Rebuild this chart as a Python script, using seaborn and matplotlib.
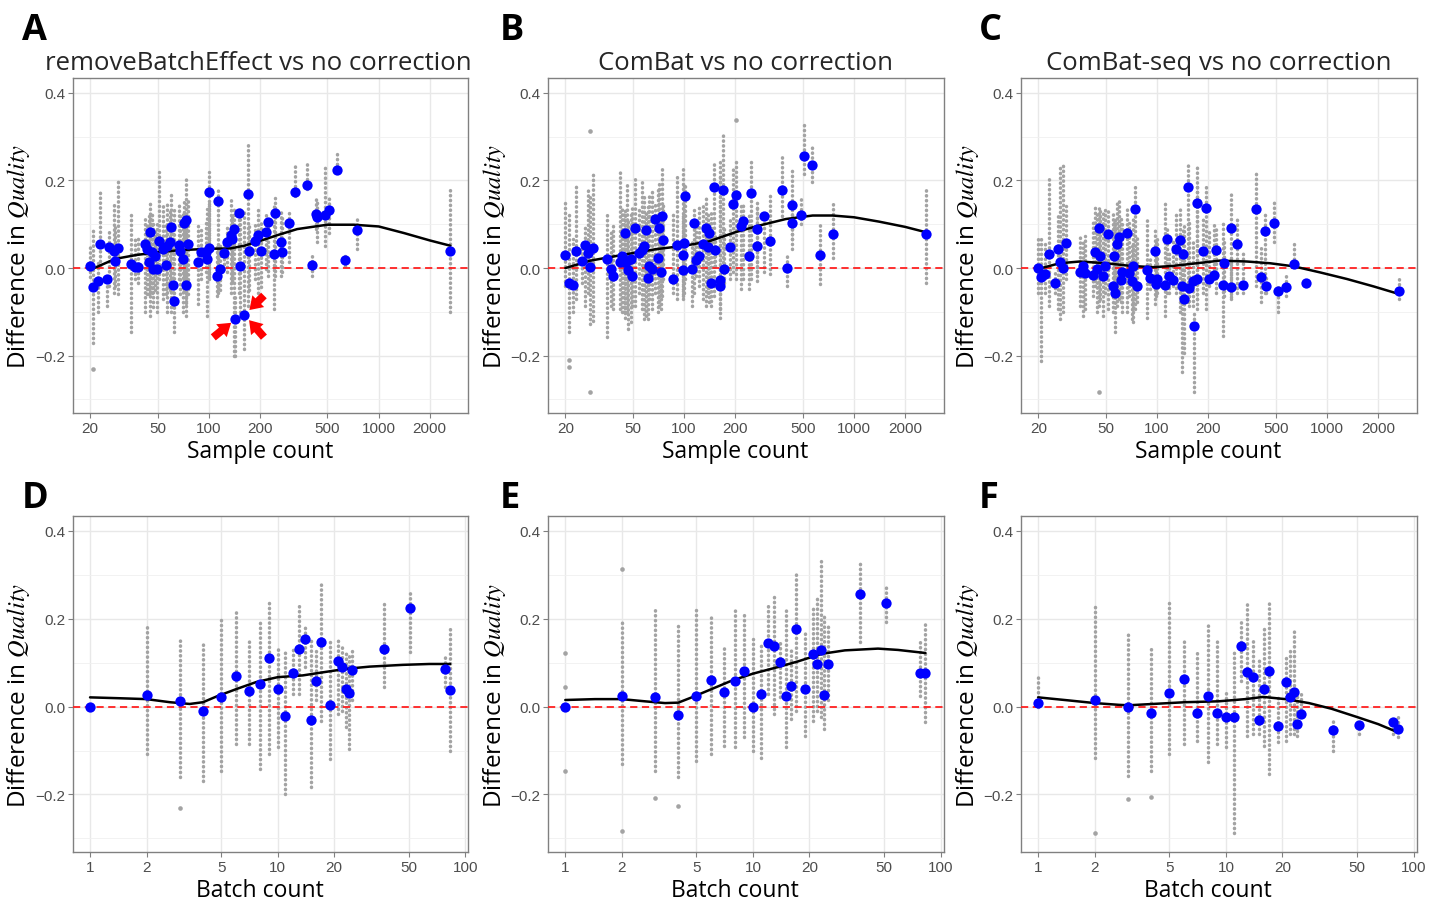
import numpy as np
import pandas as pd
import matplotlib.pyplot as plt
import seaborn as sns
from matplotlib.ticker import NullLocator

sns.set_theme(style="white")
plt.rcParams['font.family'] = ['Open Sans', 'DejaVu Sans']
plt.rcParams['mathtext.fontset'] = 'stix'

# ---- top row: difference in quality vs sample count ----
sample_a = [20, 20.9, 22.1, 23.0, 25.0, 26.0, 27.5, 28.1, 29.2, 35.0,
            36.9, 38.3, 42.3, 43.3, 44.3, 44.9, 46.3, 47.0, 48.5, 49.6,
            51.2, 53.8, 55.6, 56.9, 58.7, 59.5, 61.4, 62.5, 67.2, 68.1,
            70.7, 71.3, 73.0, 73.7, 75.4, 86.3, 90.3, 95.8, 98.0, 100.3,
            100.7, 111.4, 113.8, 117.0, 123.0, 128.8, 134.7, 137.8, 141.0, 143.6,
            151.0, 153.1, 162.3, 170.7, 171.5, 187.6, 194.6, 203.7, 217.9, 222.9,
            242.1, 246.5, 267.4, 269.9, 295.6, 320.9, 379.6, 406.4, 430.8, 434.8,
            485.6, 509.8, 568.7, 631.3, 750.3, 2650]
diff_a = [0.005, -0.044, -0.030, 0.055, -0.024, 0.047, 0.040, 0.017, 0.046, 0.009,
          0.003, 0.003, 0.056, 0.043, 0.014, 0.082, 0.036, -0.002, 0.028, -0.002,
          0.062, 0.043, 0.007, 0.051, 0.059, 0.093, -0.038, -0.076, 0.053, 0.040,
          0.021, 0.104, -0.038, 0.110, 0.056, 0.014, 0.037, 0.036, 0.021, 0.046,
          0.174, -0.019, 0.154, -0.001, 0.034, 0.059, 0.075, 0.066, 0.089, -0.117,
          0.126, 0.004, -0.107, 0.169, 0.040, 0.062, 0.075, 0.040, 0.083, 0.106,
          0.032, 0.125, 0.060, 0.037, 0.103, 0.173, 0.190, 0.007, 0.123, 0.116,
          0.122, 0.133, 0.224, 0.019, 0.086, 0.038]
gray_lo_a = [-0.02, -0.17, -0.10, 0.005, -0.086, -0.04, -0.056, -0.04, -0.059, -0.147,
             -0.025, -0.033, -0.101, -0.06, -0.06, -0.109, -0.056, -0.09, -0.05, -0.101,
             -0.025, -0.071, -0.06, -0.101, -0.05, -0.101, -0.09, -0.147, -0.025, -0.06,
             -0.101, -0.05, -0.08, -0.109, -0.06, -0.082, -0.025, -0.01, -0.109, -0.02,
             -0.025, -0.063, -0.056, -0.05, -0.002, -0.01, -0.056, -0.03, -0.20, -0.20,
             -0.056, -0.101, -0.185, -0.086, -0.05, -0.025, -0.056, -0.044, -0.002, -0.018,
             -0.094, -0.018, -0.018, -0.01, 0.013, 0.165, 0.181, -0.018, 0.089, 0.06,
             0.051, 0.08, 0.226, 0.005, 0.043, -0.101]
gray_hi_a = [0.055, 0.09, 0.02, 0.181, -0.01, 0.089, 0.15, 0.10, 0.203, 0.124,
             0.066, 0.074, 0.119, 0.10, 0.12, 0.150, 0.123, 0.10, 0.09, 0.108,
             0.219, 0.142, 0.10, 0.154, 0.13, 0.173, 0.10, 0.135, 0.146, 0.12,
             0.127, 0.15, 0.10, 0.203, 0.16, 0.097, 0.089, 0.112, 0.135, 0.15,
             0.219, 0.051, 0.181, 0.06, 0.055, 0.097, 0.165, 0.12, 0.135, -0.06,
             0.135, 0.142, 0.127, 0.283, 0.10, 0.104, 0.135, 0.112, 0.127, 0.112,
             0.142, 0.161, 0.127, 0.12, 0.135, 0.238, 0.238, 0.028, 0.158, 0.15,
             0.234, 0.165, 0.261, 0.028, 0.112, 0.184]
single_x_a = [20.9]
single_y_a = [-0.231]
curve_x_a = [20, 28.1, 37.6, 50.1, 67.9, 100.6, 134.6, 161.5, 200.8, 252.7,
             331.5, 498, 715, 1003, 1411, 2010, 2650]
curve_y_a = [-0.004, 0.021, 0.030, 0.036, 0.041, 0.044, 0.045, 0.051, 0.062, 0.075,
             0.089, 0.099, 0.099, 0.095, 0.080, 0.063, 0.051]

sample_b = [20, 20.9, 22.1, 23.0, 25.0, 26.0, 27.1, 28.1, 29.2, 35.0,
            37.2, 38.3, 41.8, 43.3, 44.3, 44.9, 46.3, 47.0, 48.5, 49.4,
            51.2, 54.3, 56.9, 58.4, 59.5, 61.4, 62.2, 65.1, 67.2, 70.7,
            71.6, 73.0, 74.5, 75.5, 86.3, 90.3, 98.0, 98.0, 100.3, 100.7,
            111.4, 113.8, 117.0, 123.0, 128.8, 134.7, 137.8, 141.0, 143.6, 153.1,
            151.0, 162.3, 163.8, 170.7, 171.5, 187.8, 194.6, 203.7, 217.9, 222.9,
            242.1, 246.5, 267.4, 269.9, 295.6, 320.9, 379.6, 406.4, 430.8, 434.8,
            485.6, 509.8, 568.7, 631.3, 750.3, 2650]
diff_b = [0.030, -0.035, -0.038, 0.040, 0.016, 0.053, 0.034, 0.003, 0.046, 0.021,
          -0.001, -0.019, 0.013, 0.027, 0.014, 0.079, 0.017, -0.004, 0.021, -0.019,
          0.091, 0.034, 0.041, 0.050, 0.088, -0.023, 0.005, -0.002, 0.112, 0.024,
          0.091, -0.010, 0.118, 0.065, -0.025, 0.053, -0.005, 0.030, 0.057, 0.165,
          -0.002, 0.102, 0.018, 0.028, 0.056, 0.091, 0.049, 0.080, -0.033, 0.041,
          0.184, -0.027, -0.040, 0.179, -0.002, 0.047, 0.146, 0.168, 0.097, 0.108,
          0.028, 0.171, 0.050, 0.089, 0.120, 0.062, 0.179, 0.000, 0.145, 0.103,
          0.121, 0.256, 0.236, 0.030, 0.078, 0.078]
gray_lo_b = [-0.040, -0.147, -0.101, -0.071, -0.033, -0.086, -0.056, -0.128, -0.120, -0.158,
             -0.086, -0.094, -0.094, -0.101, -0.101, -0.113, -0.101, -0.139, -0.124, -0.086,
             -0.086, -0.056, -0.094, -0.117, -0.109, -0.117, -0.071, -0.094, -0.056, -0.101,
             -0.086, -0.094, -0.063, -0.025, -0.056, -0.071, -0.063, -0.071, -0.056, -0.025,
             -0.086, -0.056, -0.018, -0.040, -0.071, -0.086, -0.056, -0.078, -0.086, 0.005,
             -0.063, -0.094, -0.113, -0.010, -0.033, -0.025, -0.010, -0.025, -0.048, -0.025,
             -0.048, -0.025, -0.029, -0.010, -0.010, -0.014, 0.120, -0.040, 0.043, 0.066,
             0.10, 0.215, 0.196, -0.037, 0.024, -0.033]
gray_hi_b = [0.158, 0.127, 0.066, 0.192, 0.059, 0.097, 0.181, 0.165, 0.219, 0.131,
             0.082, 0.097, 0.226, 0.142, 0.127, 0.135, 0.196, 0.112, 0.127, 0.142,
             0.203, 0.142, 0.203, 0.165, 0.127, 0.142, 0.165, 0.181, 0.150, 0.181,
             0.196, 0.127, 0.226, 0.150, 0.127, 0.211, 0.226, 0.127, 0.196, 0.196,
             0.059, 0.142, 0.112, 0.142, 0.142, 0.165, 0.127, 0.104, 0.135, 0.074,
             0.245, 0.211, 0.249, 0.306, 0.089, 0.112, 0.234, 0.245, 0.150, 0.150,
             0.127, 0.242, 0.150, 0.142, 0.135, 0.173, 0.257, 0.028, 0.226, 0.127,
             0.158, 0.333, 0.276, 0.101, 0.146, 0.188]
single_x_b = [20.9, 20.9, 28.1, 28.1, 203.7]
single_y_b = [-0.21, -0.225, 0.312, -0.282, 0.339]
curve_x_b = [20, 28.1, 43.2, 67.9, 100.6, 140.3, 200.8, 277, 398, 572,
             751, 1003, 1411, 2010, 2650]
curve_y_b = [0.000, 0.017, 0.030, 0.043, 0.051, 0.061, 0.082, 0.097, 0.112, 0.120,
             0.120, 0.116, 0.106, 0.094, 0.082]

sample_c = [20, 20.8, 21.8, 23.0, 25.0, 26.0, 27.0, 28.0, 29.0, 35.1,
            36.8, 37.9, 42.1, 43.3, 44.5, 45.3, 46.1, 47.8, 49.1, 51.2,
            54.8, 55.6, 56.6, 58.4, 59.5, 61.1, 62.5, 66.9, 68.8, 71.0,
            72.6, 74.6, 76.0, 87.1, 91.1, 97.6, 99.8, 98.9, 111.8, 114.4,
            117.0, 123.6, 129.3, 135.9, 140.4, 141.6, 143.6, 151.6, 154.4, 163.0,
            164.5, 171.4, 173.0, 187.7, 195.5, 202.7, 218.0, 224.0, 244.3, 247.6,
            271.2, 271.2, 296.9, 322.2, 383.0, 408.0, 433.8, 440.9, 489.3, 514.3,
            576.3, 639.7, 756.8, 2650]
diff_c = [0.000, -0.020, -0.014, 0.032, -0.033, 0.043, 0.015, 0.000, 0.057, -0.008,
          0.005, -0.012, -0.015, 0.037, -0.001, 0.091, 0.028, -0.018, 0.004, 0.078,
          -0.042, 0.028, -0.056, 0.056, 0.072, -0.028, -0.008, 0.080, -0.011, -0.029,
          0.005, 0.135, -0.040, -0.005, -0.023, 0.040, -0.025, -0.037, -0.039, 0.066,
          -0.018, -0.027, 0.043, 0.064, -0.042, 0.032, -0.071, 0.186, -0.046, -0.029,
          -0.132, 0.148, -0.024, 0.040, 0.138, -0.024, -0.015, 0.041, -0.038, 0.011,
          0.091, -0.044, 0.055, -0.038, 0.135, -0.020, 0.085, -0.040, 0.103, -0.053,
          -0.043, 0.009, -0.035, -0.052]
gray_lo_c = [-0.056, -0.212, -0.056, -0.086, -0.056, -0.094, -0.117, -0.101, -0.025, -0.086,
             -0.109, -0.094, -0.063, -0.040, -0.101, -0.086, -0.071, -0.109, -0.056, -0.094,
             -0.101, -0.063, -0.147, -0.086, -0.071, -0.078, -0.101, -0.101, -0.063, -0.117,
             -0.124, -0.094, -0.078, -0.113, -0.048, -0.082, -0.056, -0.063, -0.109, -0.056,
             -0.056, -0.040, -0.056, -0.101, -0.238, -0.071, -0.193, -0.078, -0.086, -0.086,
             -0.284, -0.094, -0.071, -0.056, -0.094, -0.040, -0.025, -0.056, -0.155, -0.063,
             -0.067, -0.071, -0.056, -0.056, -0.040, -0.078, -0.056, -0.056, 0.059, -0.101,
             -0.063, 0.021, -0.040, -0.071]
gray_hi_c = [0.074, 0.066, 0.059, 0.203, -0.010, 0.127, 0.234, 0.242, 0.142, 0.078,
             0.059, 0.074, 0.112, 0.142, 0.127, 0.142, 0.135, 0.127, 0.135, 0.135,
             0.127, 0.104, 0.120, 0.150, 0.154, 0.112, 0.104, 0.142, 0.104, 0.051,
             0.112, 0.188, 0.074, 0.112, 0.021, 0.089, 0.074, 0.066, 0.150, 0.089,
             0.036, 0.066, 0.127, 0.142, 0.051, 0.089, 0.104, 0.238, 0.104, 0.059,
             -0.101, 0.238, 0.188, 0.112, 0.192, 0.082, 0.104, 0.097, 0.104, 0.066,
             0.177, 0.028, 0.120, 0.036, 0.219, 0.051, 0.127, -0.018, 0.150, -0.033,
             -0.010, 0.059, -0.021, -0.018]
single_x_c = [45.3]
single_y_c = [-0.284]
curve_x_c = [20, 26.7, 35.1, 50.4, 69.3, 95.1, 124.8, 171.4, 235, 338,
             464, 638, 916, 1317, 1893, 2650]
curve_y_c = [-0.002, 0.011, 0.015, 0.011, 0.005, 0.002, 0.005, 0.011, 0.017, 0.015,
             0.011, 0.004, -0.010, -0.025, -0.042, -0.059]

# ---- bottom row: difference in quality vs batch count ----
batch_count = [1, 2, 3, 4, 5, 6, 7, 8, 9, 10, 11, 12, 13, 14, 15, 16, 17, 19,
               21, 22, 23, 24, 25, 37, 51, 78, 83]
diff_d = [0.000, 0.027, 0.012, -0.009, 0.021, 0.070, 0.036, 0.052, 0.111, 0.040,
          -0.021, 0.076, 0.130, 0.154, -0.030, 0.059, 0.148, 0.004, 0.103, 0.091,
          0.039, 0.031, 0.084, 0.132, 0.224, 0.086, 0.038]
gray_lo_d = [0.0, -0.108, -0.161, -0.169, -0.146, -0.085, -0.085, -0.142, -0.108, -0.093,
             -0.199, 0.029, 0.029, 0.090, -0.184, 0.014, -0.032, -0.119, -0.017, -0.009,
             -0.047, -0.097, 0.014, 0.044, 0.124, 0.044, -0.100]
gray_hi_d = [0.0, 0.181, 0.154, 0.147, 0.204, 0.219, 0.151, 0.200, 0.238, 0.132,
             0.132, 0.135, 0.238, 0.181, 0.151, 0.135, 0.284, 0.151, 0.154, 0.135,
             0.128, 0.120, 0.128, 0.234, 0.261, 0.113, 0.185]
single_x_d = [3]
single_y_d = [-0.232]
curve_x_d = [1, 1.44, 2.0, 2.66, 3.40, 4.0, 4.72, 6.03, 7.70, 10, 13.6, 17.4,
             23.2, 30.9, 46.4, 64.3, 83]
curve_y_d = [0.021, 0.019, 0.017, 0.010, 0.006, 0.010, 0.023, 0.040, 0.056, 0.067,
             0.071, 0.078, 0.086, 0.091, 0.095, 0.097, 0.097]

diff_e = [-0.002, 0.025, 0.021, -0.019, 0.024, 0.060, 0.033, 0.058, 0.080, -0.002,
          0.029, 0.145, 0.137, 0.101, 0.025, 0.046, 0.176, 0.041, 0.120, 0.097,
          0.129, 0.027, 0.097, 0.256, 0.236, 0.077, 0.077]
gray_lo_e = [-0.023, -0.131, -0.146, -0.161, -0.123, -0.108, -0.089, -0.093, -0.070, -0.100,
             -0.116, 0.029, -0.017, 0.021, -0.093, -0.028, -0.009, -0.066, -0.032, -0.009,
             -0.024, -0.052, 0.014, 0.147, 0.192, 0.025, -0.036]
gray_hi_e = [-0.023, 0.192, 0.225, 0.185, 0.219, 0.204, 0.143, 0.224, 0.215, 0.154,
             0.147, 0.234, 0.257, 0.151, 0.224, 0.135, 0.306, 0.170, 0.227, 0.249,
             0.341, 0.211, 0.189, 0.333, 0.276, 0.147, 0.189]
single_x_e = [1, 1, 1, 2, 2, 3, 4]
single_y_e = [0.122, 0.045, -0.146, 0.314, -0.283, -0.209, -0.227]
curve_x_e = [1, 1.44, 2.0, 2.66, 3.40, 4.0, 4.72, 6.03, 7.70, 10, 13.6, 17.4,
             23.2, 30.9, 46.4, 59.3, 83]
curve_y_e = [0.015, 0.017, 0.017, 0.012, 0.008, 0.009, 0.021, 0.040, 0.059, 0.075,
             0.090, 0.103, 0.120, 0.128, 0.132, 0.129, 0.122]

diff_f = [0.008, 0.014, -0.002, -0.015, 0.030, 0.062, -0.014, 0.024, -0.014, -0.023,
          -0.024, 0.138, 0.078, 0.067, -0.030, 0.040, 0.081, -0.045, 0.056, 0.022,
          0.034, -0.039, -0.016, -0.053, -0.043, -0.036, -0.052]
gray_lo_f = [-0.002, -0.116, -0.157, -0.146, -0.108, -0.085, -0.078, -0.127, -0.085, -0.093,
             -0.287, 0.059, -0.066, -0.062, -0.062, -0.089, -0.154, -0.081, -0.078, -0.062,
             -0.062, -0.066, -0.017, -0.100, -0.062, -0.062, -0.070]
gray_hi_f = [0.071, 0.234, 0.173, 0.139, 0.240, 0.154, 0.124, 0.192, 0.151, 0.040,
             0.124, 0.196, 0.238, 0.151, 0.113, 0.181, 0.240, 0.029, 0.120, 0.135,
             0.177, 0.029, 0.029, -0.032, -0.032, -0.021, -0.015]
single_x_f = [2, 3, 4]
single_y_f = [-0.287, -0.21, -0.206]
curve_x_f = [1, 1.46, 2.0, 2.69, 3.03, 4.09, 6.08, 9.13, 12.7, 15.8, 20.8, 27.7,
             36.6, 50.2, 64.9, 83]
curve_y_f = [0.021, 0.014, 0.008, 0.004, 0.003, 0.006, 0.010, 0.012, 0.017, 0.022,
             0.017, 0.008, -0.005, -0.024, -0.040, -0.059]

titles = ["removeBatchEffect vs no correction", "ComBat vs no correction",
          "ComBat-seq vs no correction"]
letters = ["A", "B", "C", "D", "E", "F"]
sample_ticks = [20, 50, 100, 200, 500, 1000, 2000]
batch_ticks = [1, 2, 5, 10, 20, 50, 100]
y_ticks = [-0.2, 0.0, 0.2, 0.4]
y_labels = ["\u22120.2", "0.0", "0.2", "0.4"]

fig = plt.figure(figsize=(14.41, 9.03), dpi=100)

lefts = [0.0505, 0.3803, 0.7085]
width = 0.2745


def draw_panel(ax, x, y, lo, hi, sx, sy, cx, cy, ticks, xlim, xlabel):
    ax.set_xscale('log')
    # gray per-run values drawn as dotted columns
    lc = ax.vlines(x, lo, hi, colors='#a3a3a3', linewidth=2.5,
                   linestyles=[(0, (0.1, 1.3))], zorder=2)
    lc.set_capstyle('round')
    sns.scatterplot(x=sx, y=sy, ax=ax, color='#a3a3a3', s=11, linewidth=0, zorder=2)
    ax.axhline(0, color='#ff2020', linestyle=(0, (4, 2.5)), linewidth=1.3, zorder=3)
    sns.lineplot(x=cx, y=cy, ax=ax, color='black', linewidth=1.8, zorder=4)
    sns.scatterplot(x=x, y=y, ax=ax, color='#0000ff', s=55, linewidth=0, zorder=5)

    ax.set_xlim(*xlim)
    ax.set_ylim(-0.331, 0.434)
    ax.set_xticks(ticks)
    ax.set_xticklabels([str(t) for t in ticks])
    ax.xaxis.set_minor_locator(NullLocator())
    ax.set_yticks(y_ticks)
    ax.set_yticklabels(y_labels)
    ax.set_yticks([-0.3, -0.1, 0.1, 0.3], minor=True)
    ax.set_axisbelow(True)
    ax.grid(which='major', color='#e8e8e8', linewidth=1.0)
    ax.grid(which='minor', axis='y', color='#f0f0f0', linewidth=0.6)
    for sp in ax.spines.values():
        sp.set_visible(True)
        sp.set_color('#808080')
        sp.set_linewidth(1.0)
    ax.tick_params(which='major', direction='out', length=3.5, width=0.8,
                   color='#808080', labelsize=11, labelcolor='#4d4d4d',
                   pad=2, labelfontfamily='Liberation Sans',
                   bottom=True, left=True)
    ax.tick_params(which='minor', length=0)
    ax.set_xlabel(xlabel, fontsize=16.5, labelpad=3, color='black')
    ax.xaxis.label.set_x(0.473)
    ax.set_ylabel(r"Difference in $\mathit{Quality}$", fontsize=17.5,
                  labelpad=2, color='black')
    ax.yaxis.label.set_y(0.47)


top = [(sample_a, diff_a, gray_lo_a, gray_hi_a, single_x_a, single_y_a, curve_x_a, curve_y_a),
       (sample_b, diff_b, gray_lo_b, gray_hi_b, single_x_b, single_y_b, curve_x_b, curve_y_b),
       (sample_c, diff_c, gray_lo_c, gray_hi_c, single_x_c, single_y_c, curve_x_c, curve_y_c)]
bottom = [(batch_count, diff_d, gray_lo_d, gray_hi_d, single_x_d, single_y_d, curve_x_d, curve_y_d),
          (batch_count, diff_e, gray_lo_e, gray_hi_e, single_x_e, single_y_e, curve_x_e, curve_y_e),
          (batch_count, diff_f, gray_lo_f, gray_hi_f, single_x_f, single_y_f, curve_x_f, curve_y_f)]

axes_top = []
for i, d in enumerate(top):
    ax = fig.add_axes([lefts[i], 0.5415, width, 0.3710])
    draw_panel(ax, *d, sample_ticks, (15.8, 3380), "Sample count")
    axes_top.append(ax)
for i, d in enumerate(bottom):
    ax = fig.add_axes([lefts[i], 0.0554, width, 0.3721])
    draw_panel(ax, *d, batch_ticks, (0.809, 103.7), "Batch count")

title_x = [0.469, 0.5, 0.5]
for ax, t, tx in zip(axes_top, titles, title_x):
    ax.set_title(t, fontsize=18.5, x=tx, pad=6.5)

# red arrows pointing to the two highlighted datasets in panel A
arrow_style = dict(arrowstyle='simple,head_length=0.6,head_width=0.8,tail_width=0.38',
                   color='#ff0000', mutation_scale=15, linewidth=0)
axes_top[0].annotate('', xy=(sample_a[49], diff_a[49]), xytext=(-16, -13),
                     textcoords='offset points',
                     arrowprops=dict(shrinkA=0, shrinkB=4, **arrow_style), zorder=6)
axes_top[0].annotate('', xy=(sample_a[52], diff_a[52]), xytext=(14, 14),
                     textcoords='offset points',
                     arrowprops=dict(shrinkA=0, shrinkB=5, **arrow_style), zorder=6)
axes_top[0].annotate('', xy=(sample_a[52], diff_a[52]), xytext=(14, -16),
                     textcoords='offset points',
                     arrowprops=dict(shrinkA=0, shrinkB=5, **arrow_style), zorder=6)

letter_x = [22 / 1441, 500 / 1441, 979 / 1441]
for i, letter in enumerate(letters):
    yb = 1 - 40 / 903 if i < 3 else 1 - 508 / 903
    fig.text(letter_x[i % 3], yb, letter, fontsize=26, fontweight='bold',
             va='baseline', ha='left', color='black')

fig.savefig('out.png', dpi=100)
